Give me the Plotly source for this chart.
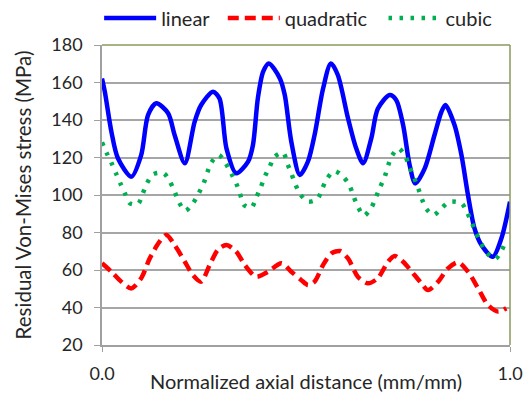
import plotly.graph_objects as go

# ---- data ----
lin_x = [0.0, 0.007, 0.023, 0.039, 0.072, 0.096, 0.113, 0.133, 0.162, 0.178, 0.203, 0.227,
         0.243, 0.272, 0.288, 0.305, 0.329, 0.358, 0.370, 0.382, 0.395, 0.409, 0.436, 0.448,
         0.464, 0.485, 0.505, 0.521, 0.542, 0.561, 0.578, 0.603, 0.623, 0.640, 0.660, 0.676,
         0.705, 0.721, 0.738, 0.754, 0.768, 0.791, 0.815, 0.832, 0.842, 0.864, 0.881, 0.897,
         0.913, 0.930, 0.958, 0.979, 1.0]
lin_y = [162.2, 155.0, 133.8, 119.6, 109.8, 121.3, 142.7, 148.9, 143.6, 132.0, 116.9, 139.0,
         148.0, 155.1, 151.5, 124.9, 111.6, 117.8, 126.7, 151.6, 165.8, 170.2, 162.2, 153.3,
         128.4, 110.7, 118.0, 132.0, 156.9, 170.2, 164.0, 140.9, 124.9, 116.9, 130.2, 146.0,
         153.3, 150.7, 137.3, 116.0, 106.2, 114.2, 132.0, 144.4, 148.0, 137.3, 121.3, 100.0,
         82.2, 73.3, 67.1, 76.9, 96.4]

quad_x = [0.0, 0.023, 0.047, 0.072, 0.096, 0.117, 0.141, 0.158, 0.178, 0.203, 0.223, 0.243,
          0.264, 0.284, 0.305, 0.329, 0.350, 0.378, 0.407, 0.440, 0.464, 0.488, 0.505, 0.521,
          0.542, 0.562, 0.583, 0.603, 0.627, 0.652, 0.676, 0.701, 0.717, 0.738, 0.766, 0.783,
          0.799, 0.824, 0.848, 0.873, 0.897, 0.922, 0.946, 0.971, 0.991]
quad_y = [63.6, 59.1, 53.8, 50.2, 55.6, 66.2, 75.1, 78.7, 73.3, 64.4, 57.3, 53.8,
          62.7, 70.7, 73.3, 69.8, 62.7, 56.4, 59.1, 63.6, 59.1, 54.7, 52.0, 53.8,
          62.7, 68.9, 70.1, 66.2, 56.4, 52.9, 55.6, 64.4, 67.5, 64.4, 57.3, 52.9,
          49.3, 53.8, 60.9, 64.1, 59.1, 50.2, 41.3, 37.8, 39.6]

cub_x = [0.0, 0.011, 0.023, 0.034, 0.045, 0.056, 0.068, 0.088, 0.100, 0.110, 0.125, 0.151,
         0.166, 0.178, 0.188, 0.204, 0.223, 0.237, 0.249, 0.258, 0.268, 0.286, 0.303, 0.317,
         0.329, 0.338, 0.348, 0.366, 0.378, 0.389, 0.399, 0.411, 0.423, 0.444, 0.454, 0.464,
         0.474, 0.486, 0.505, 0.528, 0.539, 0.551, 0.569, 0.591, 0.607, 0.617, 0.627, 0.642,
         0.660, 0.671, 0.681, 0.693, 0.701, 0.711, 0.727, 0.744, 0.754, 0.765, 0.775, 0.784,
         0.795, 0.813, 0.833, 0.852, 0.881, 0.895, 0.907, 0.917, 0.930, 0.944, 0.964, 0.980,
         0.991]
cub_y = [128.1, 122.6, 117.2, 111.7, 106.2, 100.9, 95.6, 95.2, 100.9, 106.2, 111.0, 111.6,
         107.3, 101.8, 96.4, 91.6, 95.6, 100.9, 106.2, 111.9, 117.3, 121.3, 116.9, 111.4,
         106.2, 100.9, 94.7, 93.2, 98.6, 104.1, 109.8, 115.1, 120.4, 122.6, 116.9, 111.6,
         105.7, 100.4, 96.4, 97.9, 103.0, 108.5, 112.8, 109.8, 104.8, 99.1, 93.8, 89.0,
         93.2, 98.6, 103.9, 109.8, 115.5, 121.0, 124.9, 120.4, 114.8, 109.2, 103.6, 97.9,
         92.5, 89.3, 93.2, 96.4, 95.6, 90.6, 84.9, 79.6, 73.9, 68.9, 65.9, 70.7,
         76.0]

y_ticks = [20, 40, 60, 80, 100, 120, 140, 160, 180]
x_ticks = [0.0, 1.0]
x_tick_labels = ["0.0", "1.0"]

FONT = "Lato, 'Open Sans', sans-serif"
TXT = "#262626"

fig = go.Figure()
fig.add_trace(go.Scatter(x=lin_x, y=lin_y, mode="lines", name="linear", legend="legend",
                         line=dict(color="#0000ff", width=4.5, shape="spline", smoothing=0.8)))
fig.add_trace(go.Scatter(x=quad_x, y=quad_y, mode="lines", name="quadratic", legend="legend2",
                         line=dict(color="#ff0000", width=4.5, dash="11px,6px",
                                   shape="spline", smoothing=0.8)))
fig.add_trace(go.Scatter(x=cub_x, y=cub_y, mode="lines", name="cubic", legend="legend3",
                         line=dict(color="#00b050", width=4.5, dash="3.5px,7.5px",
                                   shape="spline", smoothing=0.8)))

def leg(x):
    return dict(orientation="h", x=x, xanchor="left", y=1.09, yanchor="middle",
                font=dict(size=20, color=TXT), itemwidth=52,
                bgcolor="rgba(0,0,0,0)", borderwidth=0)

fig.update_layout(
    width=524, height=393,
    margin=dict(l=102, r=14, t=45, b=48, autoexpand=False),
    paper_bgcolor="white", plot_bgcolor="white",
    font=dict(family=FONT, size=18, color=TXT),
    showlegend=True,
    legend=leg(-0.007),
    legend2=leg(0.296),
    legend3=leg(0.69),
    xaxis=dict(range=[0, 1], tickvals=x_ticks, ticktext=x_tick_labels,
               showgrid=False, zeroline=False, showline=True, linecolor="#a0a0a0",
               linewidth=1.5, ticks="outside", ticklen=5, tickcolor="#a0a0a0",
               ticklabelstandoff=7, automargin=False,
               title=dict(text="Normalized axial distance (mm/mm)", standoff=0,
                          font=dict(size=20, color=TXT))),
    yaxis=dict(range=[20, 180], tickvals=y_ticks, showgrid=True, gridcolor="#a6a6a6",
               gridwidth=1.5, zeroline=False, showline=True, linecolor="#a0a0a0",
               linewidth=1.5, ticks="outside", ticklen=6, tickcolor="#a0a0a0",
               ticklabelstandoff=8, automargin=False,
               title=dict(text="Residual Von-Mises stress (MPa)", standoff=14,
                          font=dict(size=20.5, color=TXT))),
    shapes=[
        dict(type="line", xref="paper", yref="paper", x0=0, x1=1, y0=1, y1=1,
             line=dict(color="#8a9a5b", width=1.5)),
        dict(type="line", xref="paper", yref="paper", x0=1, x1=1, y0=0, y1=1,
             line=dict(color="#8a9a5b", width=1.5)),
    ],
)

fig.write_html("out.html", config={"displayModeBar": False},
               post_script="document.body.style.margin='0';document.body.style.overflow='hidden';")
